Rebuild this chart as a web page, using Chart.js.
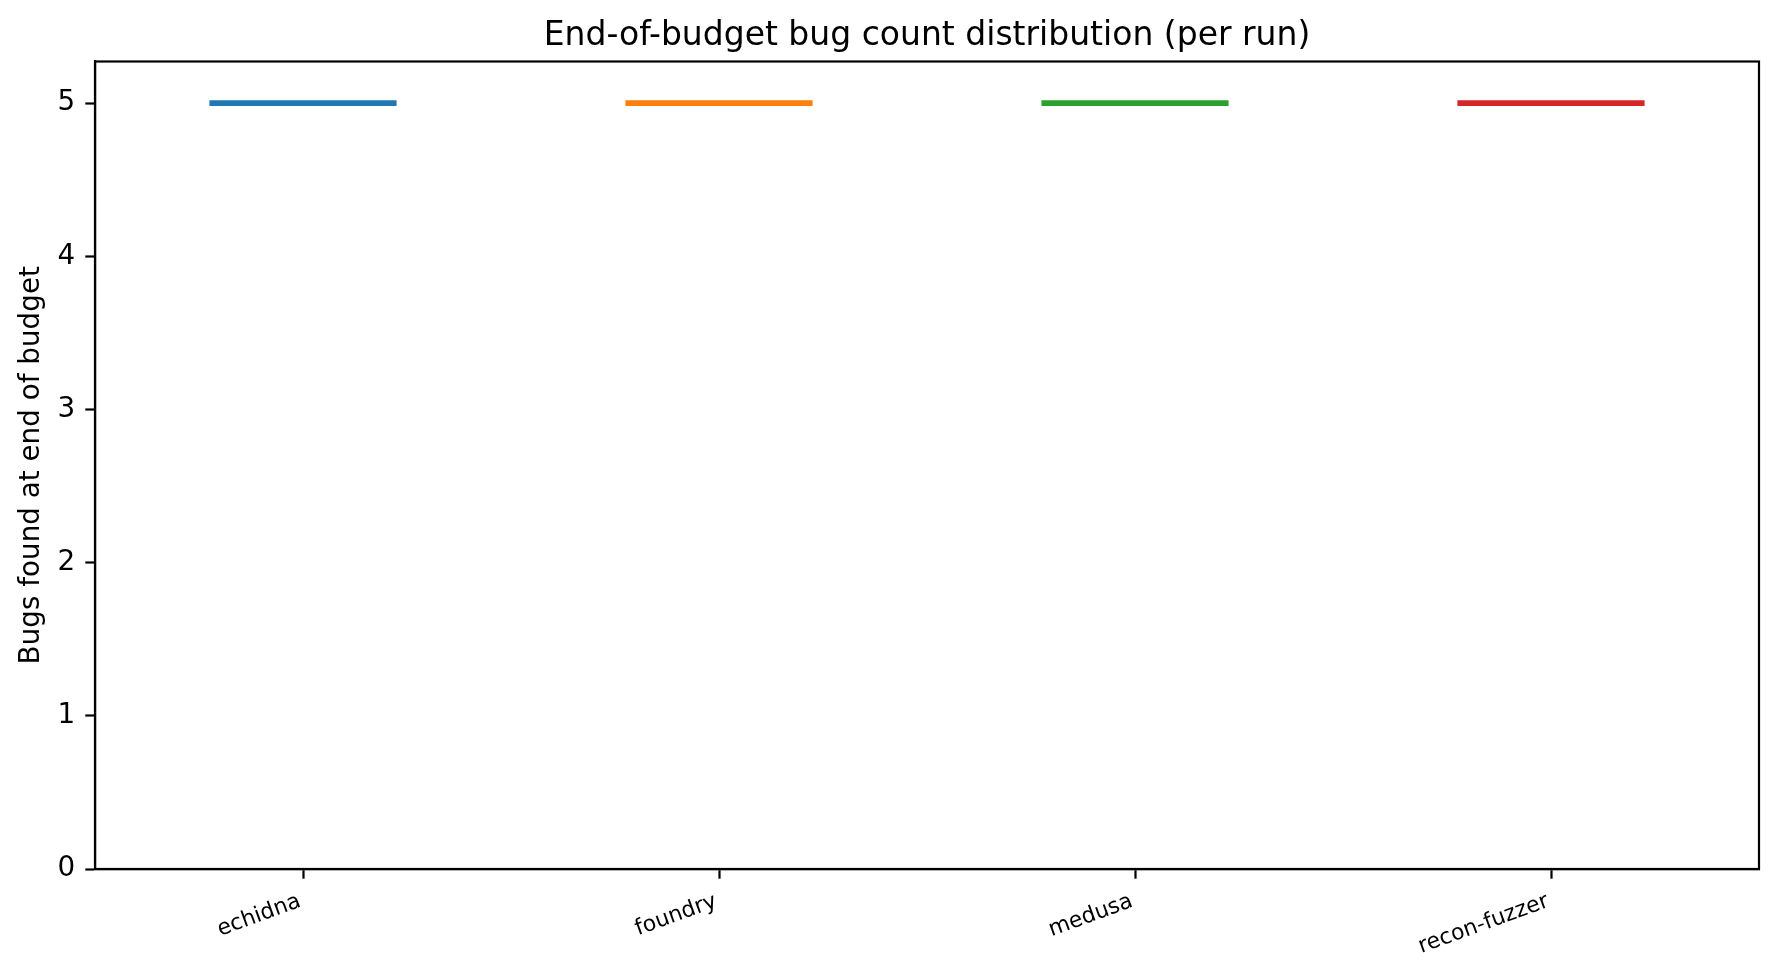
<!DOCTYPE html>
<html>
<head>
<meta charset="utf-8">
<script src="https://cdn.jsdelivr.net/npm/chart.js@4.4.1/dist/chart.umd.min.js"></script>
<style>
  html, body { margin: 0; padding: 0; background: #ffffff; }
  #wrap { width: 1779px; height: 977px; position: relative; }
</style>
</head>
<body>
<div id="wrap"><canvas id="c"></canvas></div>
<script>
// ---- data ----
const categories = ['echidna', 'foundry', 'medusa', 'recon-fuzzer'];
const bugCounts = [5, 5, 5, 5];
const seriesColors = ['#1f77b4', '#ff7f0e', '#2ca02c', '#d62728'];
const yTickValues = [0, 1, 2, 3, 4, 5];
const titleText = 'End-of-budget bug count distribution (per run)';
const yAxisTitle = 'Bugs found at end of budget';

// ---- style constants ----
const halfWidth = 0.225;
const FONT = 'DejaVu Sans';
const spineW = 2.2;
const tickLen = 9.7;

Chart.defaults.font.family = FONT;
Chart.defaults.color = '#000000';

const datasets = categories.map((name, i) => ({
  label: name,
  data: [
    { x: i - halfWidth, y: bugCounts[i] },
    { x: i + halfWidth, y: bugCounts[i] }
  ],
  showLine: true,
  borderColor: seriesColors[i],
  backgroundColor: seriesColors[i],
  borderWidth: 5.6,
  borderCapStyle: 'butt',
  pointRadius: 0,
  pointHoverRadius: 0,
  fill: false
}));

const frame = {
  id: 'frame',
  afterDatasetsDraw(chart) {
    const a = chart.chartArea;
    const ctx = chart.ctx;
    ctx.save();
    ctx.strokeStyle = '#000000';
    ctx.lineWidth = spineW;
    ctx.strokeRect(a.left, a.top, a.right - a.left, a.bottom - a.top);
    ctx.restore();
  }
};

new Chart(document.getElementById('c'), {
  type: 'scatter',
  data: { datasets },
  plugins: [frame],
  options: {
    responsive: true,
    maintainAspectRatio: false,
    devicePixelRatio: 1,
    animation: false,
    layout: { padding: { left: 0, right: 20, top: 0, bottom: 0 } },
    plugins: {
      legend: { display: false },
      tooltip: { enabled: false },
      title: {
        display: true,
        text: titleText,
        fullSize: false,
        color: '#000000',
        font: { family: FONT, size: 33, weight: 'normal' },
        padding: { top: 17, bottom: 4.9 }
      }
    },
    scales: {
      x: {
        type: 'linear',
        min: -0.5,
        max: categories.length - 0.5,
        afterBuildTicks: (s) => { s.ticks = categories.map((_, i) => ({ value: i })); },
        afterFit: (s) => { s.height = 977 - 869; },
        ticks: {
          autoSkip: false,
          minRotation: 20,
          maxRotation: 20,
          padding: 9.7,
          labelOffset: -3,
          color: '#000000',
          font: { family: FONT, size: 22 },
          callback: (v) => categories[v]
        },
        grid: {
          display: true,
          drawOnChartArea: false,
          drawTicks: true,
          tickLength: tickLen,
          tickWidth: spineW,
          tickColor: '#000000'
        },
        border: { display: true, color: '#000000', width: spineW }
      },
      y: {
        type: 'linear',
        min: 0,
        max: 5.272,
        afterBuildTicks: (s) => { s.ticks = yTickValues.map(v => ({ value: v })); },
        afterFit: (s) => { s.width = 95; },
        ticks: {
          padding: 10,
          color: '#000000',
          font: { family: FONT, size: 27.8 },
          callback: (v) => String(v)
        },
        grid: {
          display: true,
          drawOnChartArea: false,
          drawTicks: true,
          tickLength: tickLen,
          tickWidth: spineW,
          tickColor: '#000000'
        },
        border: { display: true, color: '#000000', width: spineW },
        title: {
          display: true,
          text: yAxisTitle,
          color: '#000000',
          font: { family: FONT, size: 27.8, weight: 'normal' },
          padding: { top: 15, bottom: 0 }
        }
      }
    }
  }
});
</script>
</body>
</html>
